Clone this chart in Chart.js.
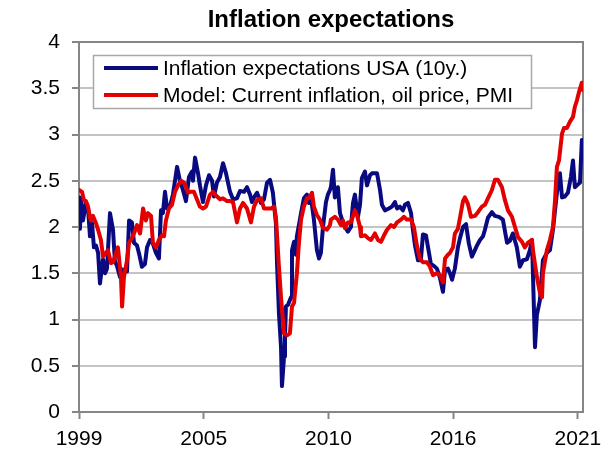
<!DOCTYPE html>
<html>
<head>
<meta charset="utf-8">
<script src="https://cdn.jsdelivr.net/npm/chart.js@4.4.1/dist/chart.umd.min.js"></script>
<style>
  html, body { margin: 0; padding: 0; background: #fff; }
</style>
</head>
<body>
<canvas id="chart" width="616" height="455"></canvas>
<script>
// x positions are months since the first observation
const tickMonths = [0, 66, 132, 198, 264];
const tickLabels = ['1999', '2005', '2010', '2016', '2021'];

const seriesNames = ['Inflation expectations USA (10y.)', 'Model: Current inflation, oil price, PMI'];

const blueX = [
  0, 0.5, 1.1, 2.1, 3.7, 4.8, 5.8, 6.9, 7.9, 9.0,
  10.1, 11.1, 12.7, 13.8, 14.8, 16.4, 18.0, 19.0, 20.1, 21.7,
  23.3, 25.4, 26.5, 28.0, 29.1, 30.7, 31.7, 33.3, 34.9, 36.0,
  37.6, 39.1, 40.7, 42.3, 43.4, 44.4, 45.5, 46.6, 48.1, 49.7,
  50.8, 51.9, 53.4, 55.0, 56.6, 58.2, 59.8, 60.3, 61.4, 63.0,
  64.0, 65.6, 67.2, 68.8, 70.4, 71.4, 73.0, 74.6, 76.2, 77.8,
  79.9, 81.5, 83.6, 85.2, 87.3, 88.9, 90.5, 91.5, 92.6, 94.2,
  96.3, 97.9, 99.5, 101.1, 102.6, 104.2, 104.8, 105.8, 106.9, 107.4,
  108.5, 109.0, 109.5, 110.6, 112.2, 112.7, 113.8, 114.8, 115.3, 117.5,
  119.0, 120.6, 121.7, 122.8, 124.3, 125.9, 127.0, 128.0, 129.1, 130.7,
  131.7, 132.8, 133.3, 134.4, 135.4, 137.0, 138.1, 139.2, 140.7, 142.3,
  143.9, 145.0, 146.0, 147.6, 148.7, 149.7, 151.3, 152.4, 154.0, 155.0,
  157.7, 159.3, 160.3, 161.9, 164.0, 165.6, 167.2, 168.3, 169.8, 171.4,
  172.5, 174.1, 175.7, 176.7, 177.8, 179.4, 180.9, 182.0, 183.6, 185.2,
  186.2, 187.8, 189.4, 191.0, 192.6, 193.7, 195.2, 196.3, 197.4, 198.9,
  200.5, 201.6, 203.2, 204.8, 206.3, 207.9, 209.5, 210.6, 212.2, 213.8,
  214.8, 216.4, 218.5, 220.1, 222.2, 224.3, 226.5, 228.0, 229.6, 231.7,
  233.3, 234.9, 237.0, 238.6, 239.7, 240.2, 241.3, 242.3, 243.9, 245.5,
  247.6, 249.2, 250.8, 251.9, 252.9, 254.5, 255.6, 257.1, 258.7, 260.3,
  261.4, 262.4, 263.5, 265.1, 266.1, 266.7
];
const blueY = [
  2.32, 1.98, 2.3, 2.07, 2.26, 2.2, 1.9, 2.04, 1.78, 1.8,
  1.72, 1.39, 1.65, 1.5, 1.55, 2.15, 1.97, 1.63, 1.58, 1.46,
  1.54, 1.52, 2.07, 2.05, 1.83, 1.8, 1.72, 1.57, 1.6, 1.78,
  1.86, 1.82, 1.72, 1.66, 2.18, 2.15, 2.38, 2.2, 2.22, 2.35,
  2.5, 2.65, 2.5, 2.4, 2.28, 2.54, 2.6, 2.5, 2.75, 2.58,
  2.45, 2.27, 2.45, 2.56, 2.5, 2.33, 2.48, 2.54, 2.69, 2.58,
  2.38, 2.3, 2.31, 2.39, 2.38, 2.43, 2.35, 2.27, 2.32, 2.37,
  2.26, 2.3, 2.48, 2.51, 2.37, 2.04, 1.6, 1.07, 0.7, 0.28,
  0.6, 0.8, 1.14, 1.16, 1.24, 1.75, 1.84, 1.7, 1.9, 2.15,
  2.31, 2.35, 2.26, 2.31, 2.08, 1.75, 1.66, 1.72, 2.0, 2.27,
  2.35, 2.4, 2.43, 2.62, 2.32, 2.43, 2.15, 2.08, 2.0, 1.95,
  2.0, 2.26, 2.35, 2.11, 2.24, 2.53, 2.6, 2.45, 2.56, 2.58,
  2.58, 2.4, 2.24, 2.18, 2.2, 2.22, 2.27, 2.2, 2.22, 2.18,
  2.24, 2.26, 2.15, 1.97, 1.8, 1.64, 1.64, 1.92, 1.91, 1.72,
  1.6, 1.58, 1.55, 1.45, 1.3, 1.54, 1.55, 1.5, 1.43, 1.55,
  1.78, 1.88, 2.0, 2.03, 1.82, 1.68, 1.75, 1.8, 1.86, 1.9,
  1.97, 2.1, 2.16, 2.12, 2.11, 2.08, 1.83, 1.85, 1.93, 1.78,
  1.57, 1.64, 1.65, 1.75, 1.86, 1.5, 0.7, 1.05, 1.21, 1.64,
  1.72, 1.75, 1.97, 2.18, 2.37, 2.58, 2.32, 2.33, 2.37, 2.54,
  2.72, 2.43, 2.45, 2.48, 2.94, 2.76
];

const redX = [
  0, 1.6, 2.6, 3.7, 4.8, 5.8, 6.3, 7.4, 9.0, 10.1,
  11.6, 12.7, 14.3, 15.3, 16.9, 18.0, 19.6, 20.6, 22.2, 22.8,
  23.8, 25.4, 26.5, 28.0, 29.1, 30.7, 32.3, 33.9, 35.4, 36.5,
  38.1, 39.1, 40.7, 42.3, 43.9, 45.0, 46.0, 47.6, 49.2, 50.8,
  52.4, 54.0, 55.6, 56.6, 57.7, 58.7, 60.8, 62.4, 64.0, 65.6,
  67.2, 69.3, 70.9, 72.5, 74.6, 76.2, 78.3, 79.9, 81.5, 83.6,
  85.2, 86.8, 88.9, 91.0, 92.6, 94.2, 96.3, 97.9, 100.0, 101.6,
  103.2, 104.2, 105.8, 106.9, 108.5, 110.1, 111.6, 112.7, 113.8, 115.3,
  116.4, 117.5, 119.0, 120.6, 121.7, 123.3, 124.3, 125.9, 127.5, 129.1,
  131.2, 132.8, 133.3, 135.4, 137.0, 138.6, 139.7, 140.7, 142.3, 143.9,
  146.0, 147.1, 148.7, 149.2, 151.3, 152.9, 154.5, 156.6, 158.2, 159.8,
  161.4, 163.0, 165.1, 166.7, 168.3, 170.4, 172.0, 173.5, 175.7, 177.2,
  178.8, 180.4, 182.0, 184.1, 185.7, 187.3, 189.4, 191.0, 192.6, 193.7,
  195.2, 196.3, 197.9, 198.9, 200.5, 201.6, 203.2, 204.2, 205.8, 207.4,
  209.5, 211.1, 213.2, 214.8, 216.4, 218.5, 220.1, 221.7, 223.8, 225.4,
  227.0, 229.1, 230.7, 232.3, 234.4, 235.9, 237.6, 239.7, 240.2, 242.3,
  243.9, 245.0, 245.5, 247.6, 249.2, 250.8, 251.9, 252.9, 254.0, 255.6,
  256.6, 258.2, 259.8, 261.4, 262.4, 263.5, 264.6, 266.1, 266.7
];
const redY = [
  2.4, 2.38, 2.29, 2.28, 2.22, 2.1, 2.07, 2.12, 2.04, 1.97,
  1.86, 1.68, 1.72, 1.75, 1.61, 1.62, 1.72, 1.78, 1.46, 1.14,
  1.46, 1.64, 1.83, 1.88, 1.93, 2.02, 1.93, 2.2, 2.07, 2.15,
  2.12, 1.83, 1.78, 1.86, 1.91, 1.9, 2.07, 2.2, 2.24, 2.38,
  2.45, 2.5, 2.48, 2.43, 2.37, 2.38, 2.38, 2.3, 2.22, 2.2,
  2.22, 2.35, 2.38, 2.34, 2.3, 2.31, 2.28, 2.28, 2.27, 2.05,
  2.2, 2.26, 2.2, 2.05, 2.22, 2.29, 2.31, 2.2, 2.2, 2.2,
  2.22, 2.11, 1.57, 1.24, 0.85, 0.83, 0.85, 1.14, 1.18, 1.5,
  1.83, 2.08, 2.22, 2.31, 2.31, 2.37, 2.22, 2.13, 2.08, 1.99,
  1.97, 2.02, 2.08, 2.11, 2.08, 2.02, 2.07, 1.99, 2.05, 2.05,
  2.18, 2.13, 2.0, 1.9, 1.91, 1.88, 1.86, 1.93, 1.86, 1.84,
  1.91, 1.97, 2.02, 2.0, 2.05, 2.08, 2.11, 2.08, 2.08, 2.0,
  1.8, 1.66, 1.62, 1.62, 1.57, 1.48, 1.5, 1.48, 1.4, 1.66,
  1.7, 1.72, 1.78, 1.93, 1.98, 2.1, 2.28, 2.32, 2.25, 2.11,
  2.12, 2.16, 2.22, 2.24, 2.31, 2.4, 2.51, 2.51, 2.43, 2.29,
  2.18, 2.11, 2.0, 1.89, 1.84, 1.78, 1.83, 1.86, 1.75, 1.46,
  1.29, 1.24, 1.5, 1.75, 1.86, 2.0, 2.29, 2.65, 2.72, 3.01,
  3.07, 3.07, 3.14, 3.19, 3.3, 3.37, 3.46, 3.56, 3.48
];

const blueColor = '#0a0a80';
const redColor = '#e20000';
const FONT = 'Arial, "Liberation Sans", sans-serif';

const toPoints = (xs, ys) => xs.map((x, i) => ({ x: x, y: ys[i] }));

// title, plot border and boxed legend drawn by hand
const decorations = {
  id: 'decorations',
  beforeDatasetsDraw(chart) {
    const a = chart.chartArea;
    const ctx = chart.ctx;
    ctx.save();
    ctx.strokeStyle = '#868686';
    ctx.lineWidth = 2;
    ctx.beginPath();
    ctx.moveTo(a.left, a.top);
    ctx.lineTo(a.right, a.top);
    ctx.lineTo(a.right, a.bottom);
    ctx.stroke();
    ctx.restore();
  },
  afterDraw(chart) {
    const a = chart.chartArea;
    const ctx = chart.ctx;
    ctx.save();
    ctx.fillStyle = '#000';
    ctx.font = 'bold 24px ' + FONT;
    ctx.textAlign = 'center';
    ctx.textBaseline = 'alphabetic';
    ctx.fillText('Inflation expectations', (a.left + a.right) / 2, 27);

    // legend box
    const bx = a.left + 14, by = a.top + 13, bw = 438, bh = 53;
    ctx.fillStyle = '#fff';
    ctx.fillRect(bx, by, bw, bh);
    ctx.strokeStyle = '#a8a8a8';
    ctx.lineWidth = 1.5;
    ctx.strokeRect(bx + 0.5, by + 0.5, bw, bh);

    const colors = [blueColor, redColor];
    ctx.font = '21px ' + FONT;
    ctx.textAlign = 'left';
    ctx.textBaseline = 'middle';
    seriesNames.forEach((name, i) => {
      const yy = by + 13 + i * 27;
      ctx.strokeStyle = colors[i];
      ctx.lineWidth = 4;
      ctx.beginPath();
      ctx.moveTo(bx + 11, yy);
      ctx.lineTo(bx + 65, yy);
      ctx.stroke();
      ctx.fillStyle = '#000';
      ctx.fillText(name, bx + 70, yy + 1);
    });
    ctx.restore();
  }
};

new Chart(document.getElementById('chart'), {
  type: 'line',
  data: {
    datasets: [
      {
        label: seriesNames[0],
        data: toPoints(blueX, blueY),
        borderColor: blueColor,
        borderWidth: 4,
        pointRadius: 0,
        tension: 0,
        borderJoinStyle: 'round',
        borderCapStyle: 'round',
        order: 1
      },
      {
        label: seriesNames[1],
        data: toPoints(redX, redY),
        borderColor: redColor,
        borderWidth: 4,
        pointRadius: 0,
        tension: 0,
        borderJoinStyle: 'round',
        borderCapStyle: 'round',
        order: 0
      }
    ]
  },
  options: {
    responsive: false,
    animation: false,
    layout: { padding: { top: 42, right: 33, left: 0, bottom: 0 } },
    plugins: {
      legend: { display: false },
      title: { display: false },
      tooltip: { enabled: false }
    },
    scales: {
      x: {
        type: 'linear',
        min: 0,
        max: 266.7,
        afterBuildTicks: (scale) => {
          scale.ticks = tickMonths.map(v => ({ value: v }));
        },
        afterFit: (scale) => { scale.height = 43; },
        grid: {
          drawOnChartArea: false,
          drawTicks: true,
          tickLength: 7,
          tickWidth: 2,
          tickColor: '#868686'
        },
        border: { color: '#868686', width: 2 },
        ticks: {
          autoSkip: false,
          maxRotation: 0,
          padding: 8,
          color: '#000',
          font: { family: FONT, size: 21 },
          callback: (v, i) => tickLabels[i]
        }
      },
      y: {
        min: 0,
        max: 4,
        afterFit: (scale) => { scale.width = 79; },
        grid: {
          color: '#c4c4c4',
          lineWidth: 2,
          tickLength: 7,
          tickColor: '#868686',
          tickWidth: 2
        },
        border: { color: '#868686', width: 2 },
        ticks: {
          stepSize: 0.5,
          padding: 12,
          color: '#000',
          font: { family: FONT, size: 21 },
          callback: (v) => String(Math.round(v * 10) / 10)
        }
      }
    }
  },
  plugins: [decorations]
});
</script>
</body>
</html>
